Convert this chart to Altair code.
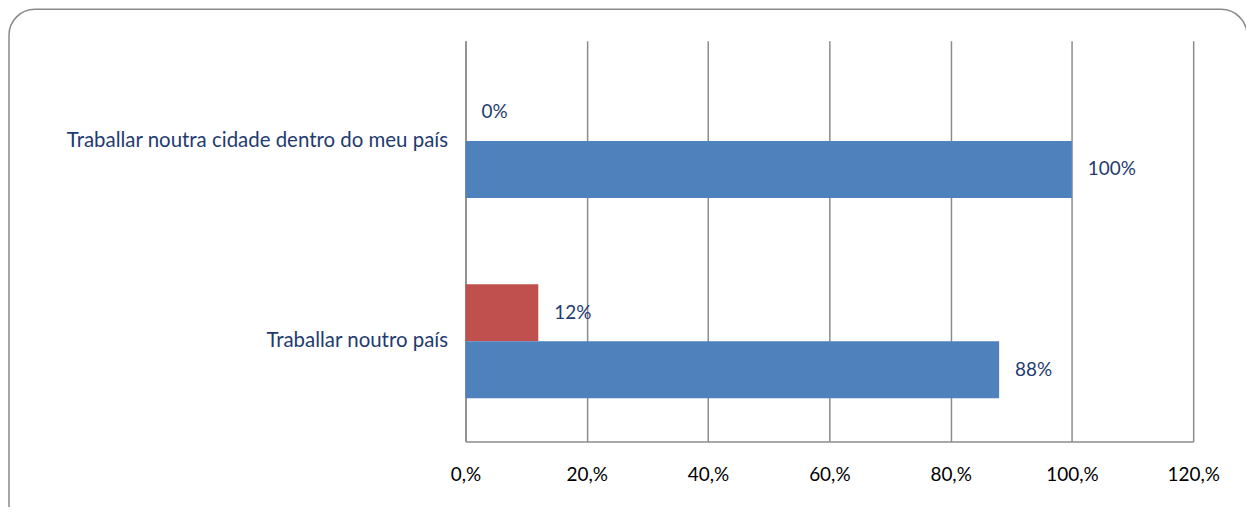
import altair as alt
import pandas as pd

categories = ["Traballar noutra cidade dentro do meu país", "Traballar noutro país"]
series = ["Serie 1", "Serie 2"]
serie1_values = [0, 12]
serie2_values = [100, 88]
x_ticks = [0, 20, 40, 60, 80, 100, 120]
colors = ["#C0504D", "#4F81BD"]

rows = []
for i, c in enumerate(categories):
    rows.append({"categoria": c, "serie": series[0], "valor": serie1_values[i]})
    rows.append({"categoria": c, "serie": series[1], "valor": serie2_values[i]})
df = pd.DataFrame(rows)

FONT = "Lato"
NAVY = "#1F3B70"
GRID = "#8C8C8C"

frame = alt.Chart(pd.DataFrame({"a": [0]})).mark_rect(
    fillOpacity=0, stroke="#8A8A8A", strokeWidth=1.5, cornerRadius=26
).encode(
    x=alt.value(-458), x2=alt.value(784), y=alt.value(-31.5), y2=alt.value(500)
)

yenc = alt.Y("categoria:N", sort=categories, title=None,
             scale=alt.Scale(paddingInner=0.43, paddingOuter=0.215),
             axis=alt.Axis(labelFont=FONT, labelFontSize=20.5, labelColor=NAVY,
                           labelPadding=18, ticks=False, domain=True,
                           domainColor=GRID, domainWidth=1.5, labelLimit=500))
xenc = alt.X("valor:Q", title=None,
             scale=alt.Scale(domain=[0, 120], nice=False),
             axis=alt.Axis(values=x_ticks, labelExpr="datum.value + ',%'",
                           labelFont=FONT, labelFontSize=19, labelColor="black",
                           labelPadding=24, ticks=False, grid=True, labelFlush=False,
                           gridColor=GRID, gridWidth=1.5, domainColor=GRID,
                           domainWidth=1.5))
yoff = alt.YOffset("serie:N", sort=series, scale=alt.Scale(paddingInner=0, paddingOuter=0))

bars = alt.Chart(df).mark_bar().encode(
    y=yenc, x=xenc, yOffset=yoff,
    color=alt.Color("serie:N", sort=series, scale=alt.Scale(domain=series, range=colors), legend=None),
)
labels = alt.Chart(df).transform_calculate(t="datum.valor + '%'").mark_text(
    align="left", dx=16, font=FONT, fontSize=19, color=NAVY
).encode(
    y=alt.Y("categoria:N", sort=categories), x="valor:Q", yOffset=yoff,
    text="t:N",
)

chart = alt.layer(frame, bars, labels).properties(
    width=730, height=402,
    autosize=alt.AutoSizeParams(type="none"),
    padding={"left": 459, "top": 32, "right": 53, "bottom": 65},
).configure_view(stroke=None)

chart.save("out.html", embed_options={"renderer": "svg", "actions": False})
